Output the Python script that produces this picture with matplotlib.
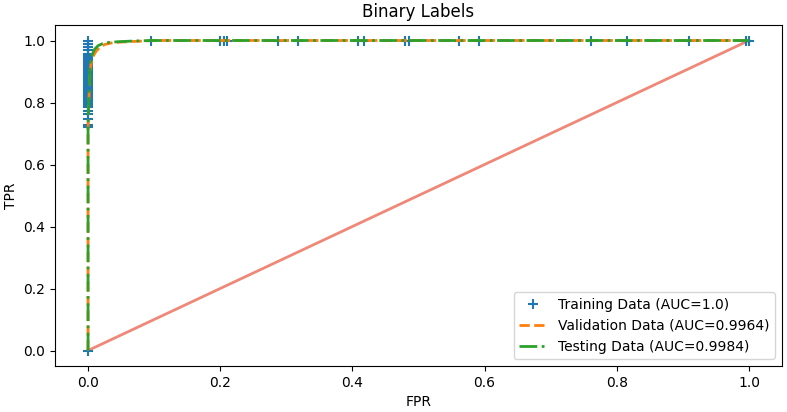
import matplotlib
matplotlib.use("Agg")
import matplotlib.pyplot as plt

# Training ROC points (plotted as '+' markers)
train_fpr = [0.0] * 44 + [0.0, 0.096, 0.200, 0.205, 0.210, 0.287, 0.317, 0.408, 0.417,
                          0.479, 0.485, 0.562, 0.591, 0.761, 0.816, 0.909, 0.995, 1.0]
train_tpr = [0.0, 0.720, 0.726, 0.746, 0.762, 0.773,
             0.785, 0.790, 0.795, 0.800, 0.805, 0.810, 0.815, 0.820, 0.825, 0.830,
             0.835, 0.840, 0.845, 0.850, 0.855, 0.860, 0.865, 0.870, 0.875, 0.880,
             0.885, 0.890, 0.895, 0.900, 0.905, 0.910, 0.915, 0.920, 0.925, 0.930,
             0.935, 0.940, 0.945, 0.950, 0.955, 0.968, 0.980, 0.990,
             1.0, 1.0, 1.0, 1.0, 1.0, 1.0, 1.0, 1.0, 1.0,
             1.0, 1.0, 1.0, 1.0, 1.0, 1.0, 1.0, 1.0, 1.0]

# Validation ROC
val_fpr = [0.0, 0.0, 0.002, 0.003, 0.005, 0.008, 0.012, 0.018, 0.025, 0.035,
           0.050, 0.070, 0.100, 1.0]
val_tpr = [0.0, 0.720, 0.850, 0.900, 0.930, 0.950, 0.965, 0.978, 0.987, 0.992,
           0.995, 0.997, 1.0, 1.0]

# Testing ROC
test_fpr = [0.0, 0.0, 0.002, 0.003, 0.004, 0.007, 0.010, 0.015, 0.022, 0.032,
            0.045, 0.065, 0.095, 1.0]
test_tpr = [0.0, 0.720, 0.860, 0.910, 0.940, 0.958, 0.972, 0.983, 0.990, 0.994,
            0.996, 0.998, 1.0, 1.0]

diag = [0.0, 1.0]

train_label = "Training Data (AUC=1.0)"
val_label = "Validation Data (AUC=0.9964)"
test_label = "Testing Data (AUC=0.9984)"

fig = plt.figure(figsize=(7.87, 4.12), dpi=100)
ax = fig.add_axes([55 / 787, (412 - 366) / 412, (782 - 55) / 787, (366 - 25) / 412])

ax.plot(diag, diag, color="#F08878", linewidth=2)
ax.plot(train_fpr, train_tpr, linestyle="none", marker="+", color="C0",
        markersize=7, markeredgewidth=1.5, label=train_label)
ax.plot(val_fpr, val_tpr, linestyle="--", color="C1", linewidth=2, label=val_label)
ax.plot(test_fpr, test_tpr, linestyle="-.", color="C2", linewidth=2, label=test_label)

ax.set_title("Binary Labels")
ax.set_xlabel("FPR")
ax.set_ylabel("TPR")
ax.legend(loc="lower right")

fig.savefig("out.png", dpi=100)
